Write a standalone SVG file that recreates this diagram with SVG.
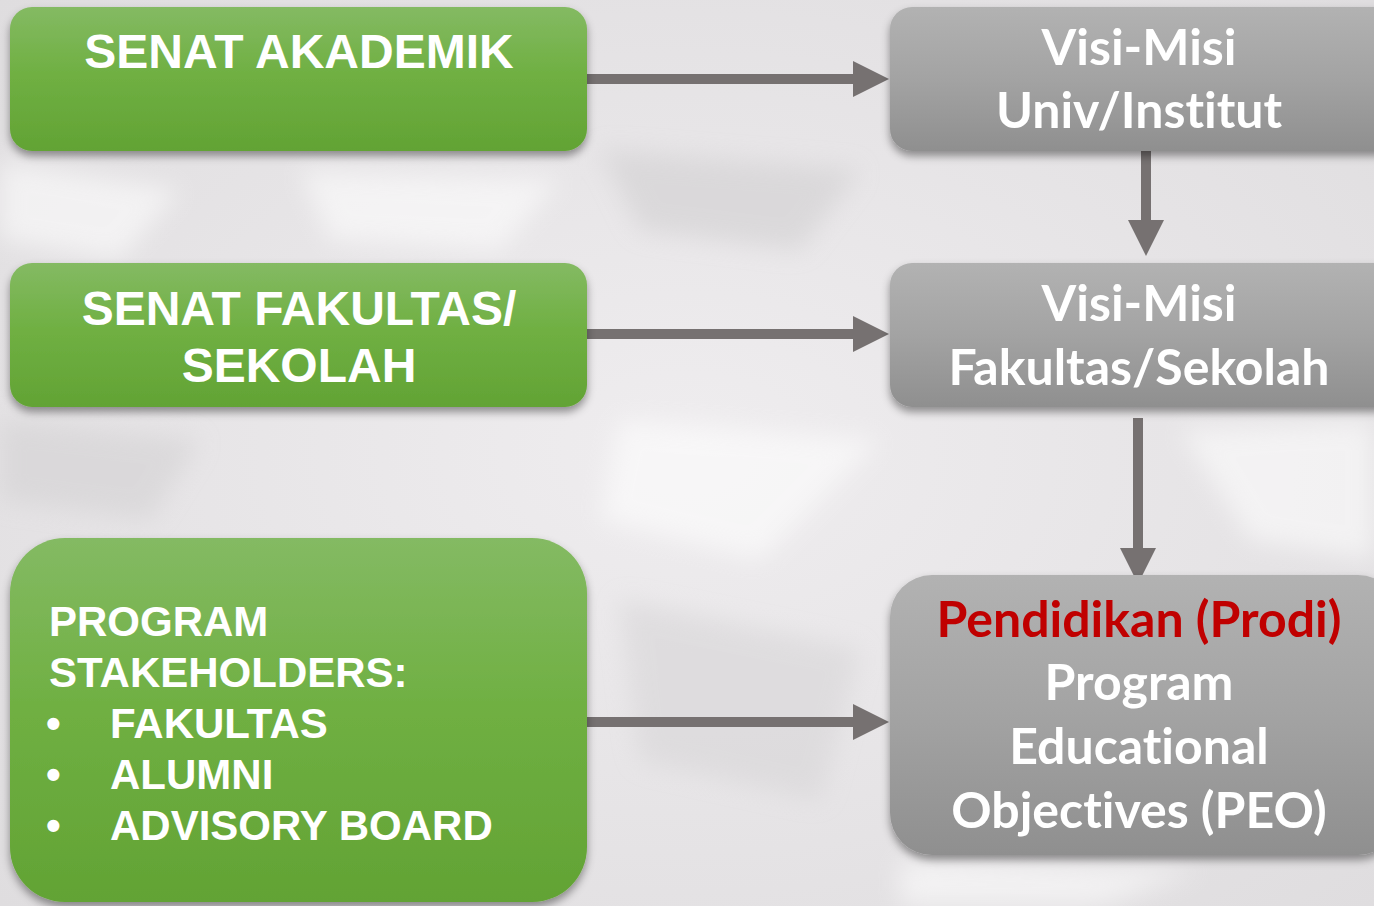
<svg xmlns="http://www.w3.org/2000/svg" width="1374" height="906" viewBox="0 0 1374 906">
<defs>
<linearGradient id="gGreen" x1="0" y1="0" x2="0" y2="1">
<stop offset="0" stop-color="#84BA63"/>
<stop offset="0.45" stop-color="#70B043"/>
<stop offset="1" stop-color="#62A334"/>
</linearGradient>
<linearGradient id="gGrey" x1="0" y1="0" x2="0" y2="1">
<stop offset="0" stop-color="#B2B2B2"/>
<stop offset="0.5" stop-color="#A3A3A3"/>
<stop offset="1" stop-color="#8F8F8F"/>
</linearGradient>
<radialGradient id="bg" cx="0.5" cy="0.5" r="0.75">
<stop offset="0" stop-color="#EFEDEF"/>
<stop offset="1" stop-color="#DEDCDE"/>
</radialGradient>
<filter id="shadow" x="-10%" y="-10%" width="120%" height="130%">
<feDropShadow dx="0" dy="5" stdDeviation="4" flood-color="#000" flood-opacity="0.4"/>
</filter>
<filter id="soft" x="-20%" y="-20%" width="140%" height="140%">
<feGaussianBlur stdDeviation="12"/>
</filter>
<marker id="ah" viewBox="0 0 10 10" refX="0" refY="5" markerWidth="3.7" markerHeight="3.6" orient="auto" markerUnits="strokeWidth">
<path d="M0,0 L10,5 L0,10 Z" fill="#767171"/>
</marker>
</defs>
<style>
.green{fill:url(#gGreen);filter:url(#shadow);}
.grey{fill:url(#gGrey);filter:url(#shadow);}
.lt{font-family:"Liberation Sans",Arial,sans-serif;font-weight:bold;fill:#FFFFFF;}
.rt{font-family:Lato,"Open Sans",sans-serif;font-weight:bold;fill:#FFFFFF;font-size:50px;text-anchor:middle;font-variant-ligatures:none;font-feature-settings:"liga" 0;}
.red{fill:#C00000;}
.conn{stroke:#767171;stroke-width:10;fill:none;marker-end:url(#ah);}
</style>
<rect width="1374" height="906" fill="url(#bg)"/>
<g filter="url(#soft)" opacity="0.55">
<polygon points="0,160 180,190 120,260 0,240" fill="#FFFFFF"/>
<polygon points="600,150 860,170 800,250 640,230" fill="#CFCDCF"/>
<polygon points="620,420 880,440 760,560 600,520" fill="#FFFFFF"/>
<polygon points="0,420 200,440 150,520 0,500" fill="#D2D0D2"/>
<polygon points="1180,430 1374,420 1374,560 1250,540" fill="#FFFFFF"/>
<polygon points="620,600 860,650 820,800 640,760" fill="#D6D4D6"/>
<polygon points="900,860 1200,870 1100,906 900,906" fill="#FFFFFF"/>
<polygon points="300,170 560,180 500,250 330,240" fill="#FFFFFF"/>
</g>
<g id="connectors">
<line class="conn" x1="587" y1="79" x2="853" y2="79"/>
<line class="conn" x1="587" y1="334" x2="853" y2="334"/>
<line class="conn" x1="587" y1="722" x2="853" y2="722"/>
<line class="conn" x1="1146" y1="151" x2="1146" y2="220"/>
<line class="conn" x1="1138" y1="418" x2="1138" y2="548"/>
</g>
<g id="senat-akademik">
<rect class="green" x="10" y="7" width="577" height="144" rx="22"/>
<text class="lt" x="299" y="68" font-size="48" text-anchor="middle">SENAT AKADEMIK</text>
</g>
<g id="senat-fakultas">
<rect class="green" x="10" y="263" width="577" height="144" rx="22"/>
<text class="lt" x="299" y="325" font-size="48" text-anchor="middle">SENAT FAKULTAS/</text>
<text class="lt" x="299" y="382" font-size="48" text-anchor="middle">SEKOLAH</text>
</g>
<g id="program-stakeholders">
<rect class="green" x="10" y="538" width="577" height="364" rx="55"/>
<text class="lt" font-size="42">
<tspan x="49" y="636">PROGRAM</tspan>
<tspan x="49" y="687">STAKEHOLDERS:</tspan>
</text>
<text class="lt" font-size="42">
<tspan x="46" y="738">•</tspan><tspan x="110" y="738">FAKULTAS</tspan>
<tspan x="46" y="789">•</tspan><tspan x="110" y="789">ALUMNI</tspan>
<tspan x="46" y="840">•</tspan><tspan x="110" y="840">ADVISORY BOARD</tspan>
</text>
</g>
<g id="visi-misi-univ">
<rect class="grey" x="890" y="7" width="510" height="144" rx="22"/>
<text class="rt" x="1139" y="65">Visi-Misi</text>
<text class="rt" x="1139" y="128">Univ/Institut</text>
</g>
<g id="visi-misi-fakultas">
<rect class="grey" x="890" y="263" width="510" height="144" rx="22"/>
<text class="rt" x="1139" y="321">Visi-Misi</text>
<text class="rt" x="1139" y="385">Fakultas/Sekolah</text>
</g>
<g id="peo">
<rect class="grey" x="890" y="575" width="510" height="280" rx="42"/>
<text class="rt red" x="1139" y="637">Pendidikan (Prodi)</text>
<text class="rt" x="1139" y="700">Program</text>
<text class="rt" x="1139" y="764">Educational</text>
<text class="rt" x="1139" y="828">Objectives (PEO)</text>
</g>
</svg>
